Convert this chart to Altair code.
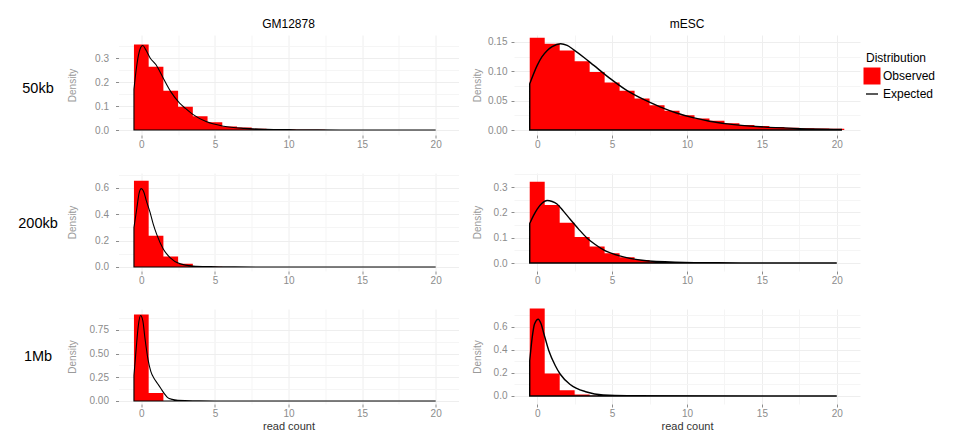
import altair as alt
import pandas as pd

FONT = "Liberation Sans"
RED = "#FF0000"
GRID_MAJOR = "#EEEEEE"
GRID_MINOR = "#F5F5F5"
AXIS_GREY = "#8C8C8C"

# read-count bins (width 1, centred on each count)
read_count = list(range(21))

# observed densities per bin
obs_gm12878_50kb = [0.356, 0.264, 0.164, 0.097, 0.057, 0.032, 0.015, 0.010, 0.005, 0.003, 0.002,
                    0.0012, 0.0008, 0.0005, 0.0003, 0.0002, 0.0001, 0.0001, 0.0, 0.0, 0.0]
obs_mesc_50kb = [0.157, 0.147, 0.1355, 0.117, 0.099, 0.081, 0.067, 0.0535, 0.042, 0.033, 0.025,
                 0.0198, 0.0157, 0.0116, 0.0087, 0.007, 0.005, 0.004, 0.003, 0.0025, 0.002]
obs_gm12878_200kb = [0.654, 0.2375, 0.079, 0.0255, 0.006, 0.002, 0.0007, 0.0002, 0.0001, 0.0, 0.0,
                     0.0, 0.0, 0.0, 0.0, 0.0, 0.0, 0.0, 0.0, 0.0, 0.0]
obs_mesc_200kb = [0.321, 0.229, 0.159, 0.103, 0.065, 0.039, 0.023, 0.012, 0.006, 0.004, 0.002,
                  0.0012, 0.0007, 0.0004, 0.0002, 0.0001, 0.0, 0.0, 0.0, 0.0, 0.0]
obs_gm12878_1mb = [0.914, 0.085, 0.001, 0.0, 0.0, 0.0, 0.0, 0.0, 0.0, 0.0, 0.0,
                   0.0, 0.0, 0.0, 0.0, 0.0, 0.0, 0.0, 0.0, 0.0, 0.0]
obs_mesc_1mb = [0.76, 0.195, 0.05, 0.012, 0.003, 0.001, 0.0, 0.0, 0.0, 0.0, 0.0,
                0.0, 0.0, 0.0, 0.0, 0.0, 0.0, 0.0, 0.0, 0.0, 0.0]

# expected density curves: read count -> density
exp_gm12878_50kb_x = [-0.5, -0.35, -0.2, 0.0, 0.1, 0.3, 0.6, 1.0, 1.5, 2.0, 2.6, 3.0, 3.5, 4.4,
                      5.6, 7.0, 8.5, 10.0, 12.0, 15.0, 20.0]
exp_gm12878_50kb_y = [0.17, 0.25, 0.31, 0.348, 0.352, 0.335, 0.300, 0.272, 0.215, 0.160, 0.112,
                      0.090, 0.065, 0.035, 0.016, 0.007, 0.003, 0.0015, 0.0006, 0.0002, 0.0]

exp_mesc_50kb_x = [-0.5, 0.0, 0.3, 0.67, 1.0, 1.56, 2.0, 2.44, 3.1, 3.78, 4.9, 6.0, 7.1, 8.2,
                   9.3, 10.4, 11.5, 12.7, 14.9, 17.1, 19.0, 20.3]
exp_mesc_50kb_y = [0.0785, 0.110, 0.124, 0.1355, 0.142, 0.147, 0.144, 0.1365, 0.124, 0.110, 0.087,
                   0.067, 0.052, 0.0395, 0.029, 0.021, 0.015, 0.0105, 0.0055, 0.0028, 0.0015, 0.001]

exp_gm12878_200kb_x = [-0.5, -0.3, -0.15, 0.0, 0.15, 0.35, 0.59, 0.8, 1.04, 1.5, 1.95, 2.6, 3.5,
                       4.7, 6.0, 8.0, 20.0]
exp_gm12878_200kb_y = [0.30, 0.45, 0.56, 0.595, 0.575, 0.50, 0.416, 0.33, 0.25, 0.135, 0.0715,
                       0.0255, 0.0077, 0.003, 0.001, 0.0003, 0.0]

exp_mesc_200kb_x = [-0.5, -0.25, 0.0, 0.3, 0.66, 1.0, 1.32, 1.75, 2.2, 2.75, 3.3, 3.85, 4.4, 5.5,
                    7.0, 9.2, 12.0, 20.0]
exp_mesc_200kb_y = [0.156, 0.187, 0.213, 0.235, 0.247, 0.243, 0.233, 0.205, 0.173, 0.135, 0.100,
                    0.074, 0.053, 0.028, 0.0107, 0.003, 0.0008, 0.0]

exp_gm12878_1mb_x = [-0.5, -0.35, -0.2, -0.05, 0.1, 0.25, 0.46, 0.65, 0.87, 1.1, 1.33, 1.55, 1.79,
                     2.1, 2.5, 3.5, 5.0, 20.0]
exp_gm12878_1mb_y = [0.27, 0.55, 0.80, 0.903, 0.85, 0.66, 0.434, 0.31, 0.238, 0.185, 0.132, 0.08,
                     0.036, 0.017, 0.008, 0.002, 0.0005, 0.0]

exp_mesc_1mb_x = [-0.5, -0.33, -0.18, 0.07, 0.25, 0.44, 0.77, 1.21, 1.54, 2.2, 3.3, 4.4, 6.0, 20.0]
exp_mesc_1mb_y = [0.307, 0.514, 0.626, 0.668, 0.63, 0.544, 0.396, 0.263, 0.189, 0.10, 0.035,
                  0.009, 0.002, 0.0]

cells = ["GM12878", "mESC"]
resolutions = ["50kb", "200kb", "1Mb"]

COLOR_SCALE = alt.Scale(domain=["Observed", "Expected"], range=[RED, "black"])

IS_EXPECTED = "datum.label === 'Expected'"
LEGEND = alt.Legend(
    title="Distribution",
    orient="none",
    legendX=853,
    legendY=18,
    titleFont=FONT, titleFontSize=12, titleFontWeight="normal", titleColor="black",
    titlePadding=5,
    labelFont=FONT, labelFontSize=12, labelColor="black", labelOffset=5,
    rowPadding=3, symbolOpacity=1,
    symbolSize={"expr": f"{IS_EXPECTED} ? 145 : 289"},
    symbolType={"expr": f"{IS_EXPECTED} ? 'stroke' : 'square'"},
    symbolStrokeWidth={"expr": f"{IS_EXPECTED} ? 1.3 : 0"},
    symbolStrokeColor={"expr": f"{IS_EXPECTED} ? '#000000' : '{RED}'"},
)


def on_step(step):
    return f"abs(datum.value / {step} - round(datum.value / {step})) < 1e-6"


def x_axis(title_on):
    test = on_step(5)
    kw = dict(
        values=[v * 2.5 for v in range(9)],
        labelExpr=f"{test} ? format(datum.value, 'd') : ''",
        labelOverlap=False,
        tickOpacity={"condition": {"test": test, "value": 1}, "value": 0},
        gridColor={"condition": {"test": test, "value": GRID_MAJOR}, "value": GRID_MINOR},
        labelPadding=1,
    )
    if title_on:
        kw.update(titleColor="#333333", titleFontSize=11, titlePadding=2)
    return alt.Axis(**kw)


def y_axis(step, fmt, top, side):
    test = on_step(step)
    n = int(top / (step / 2) + 1e-9)
    vals = [round(i * step / 2, 6) for i in range(n + 1)]
    extent = 30 if side == "left" else 26
    return alt.Axis(
        values=vals,
        labelExpr=f"{test} ? format(datum.value, '{fmt}') : ''",
        labelOverlap=False,
        tickOpacity={"condition": {"test": test, "value": 1}, "value": 0},
        gridColor={"condition": {"test": test, "value": GRID_MAJOR}, "value": GRID_MINOR},
        minExtent=extent, maxExtent=extent,
        labelPadding=7 if side == "left" else 4,
        titlePadding=11.5 if side == "left" else 5.5,
    )


def histogram_outline(obs):
    # left edge of every unit-wide bin, plus the right edge of the last one,
    # so a step-after area traces the whole histogram as one shape
    edges = [c - 0.5 for c in read_count] + [read_count[-1] + 0.5]
    heights = list(obs) + [obs[-1]]
    return pd.DataFrame({"edge": edges, "density": heights, "Distribution": "Observed"})


def panel(obs, ex_x, ex_y, y_dom, y_step, y_fmt, width, height, side,
          x_title=None, col_title=None):
    bars = histogram_outline(obs)
    curve = pd.DataFrame({"count": ex_x, "density": ex_y, "Distribution": "Expected"})
    xs = alt.Scale(domain=[-1.55, 21.55], nice=False, zero=False)
    ys = alt.Scale(domain=y_dom, nice=False, zero=False)
    xa = x_axis(x_title is not None)
    ya = y_axis(y_step, y_fmt, y_dom[1], side)
    color = alt.Color("Distribution:N", scale=COLOR_SCALE, legend=LEGEND)

    observed = alt.Chart(bars).mark_area(interpolate="step-after").encode(
        x=alt.X("edge:Q", scale=xs, axis=xa, title=x_title),
        y=alt.Y("density:Q", scale=ys, axis=ya, title="Density", stack=None),
        y2=alt.datum(0),
        color=color,
    )
    expected = alt.Chart(curve).mark_area(
        filled=False, interpolate="monotone", strokeWidth=1.1 if side == "left" else 1.4
    ).encode(
        x=alt.X("count:Q", scale=xs, axis=xa, title=x_title),
        y=alt.Y("density:Q", scale=ys, axis=ya, title="Density", stack=None),
        y2=alt.datum(0),
        color=color,
    )
    props = dict(width=width, height=height)
    if col_title is not None:
        props["title"] = alt.TitleParams(col_title, font=FONT, fontSize=12, fontWeight="normal",
                                         color="black", offset=4, anchor="middle")
    return alt.layer(observed, expected).properties(**props)


def row_label(text, height, dy):
    return alt.Chart(pd.DataFrame({"label": [text]})).mark_text(
        font=FONT, fontSize=14.5, color="black", dy=dy
    ).encode(text="label:N").properties(width=50, height=height)


W_LEFT, W_RIGHT = 340, 346
H = [100, 98, 95]

grid = [
    row_label(resolutions[0], H[0], 4),
    panel(obs_gm12878_50kb, exp_gm12878_50kb_x, exp_gm12878_50kb_y, [-0.0208, 0.396], 0.1, ".1f",
          W_LEFT, H[0], "left", col_title=cells[0]),
    panel(obs_mesc_50kb, exp_mesc_50kb_x, exp_mesc_50kb_y, [-0.0085, 0.1618], 0.05, ".2f",
          W_RIGHT, H[0], "right", col_title=cells[1]),
    row_label(resolutions[1], H[1], 2),
    panel(obs_gm12878_200kb, exp_gm12878_200kb_x, exp_gm12878_200kb_y, [-0.0304, 0.7137], 0.2, ".1f",
          W_LEFT, H[1], "left"),
    panel(obs_mesc_200kb, exp_mesc_200kb_x, exp_mesc_200kb_y, [-0.0316, 0.3557], 0.1, ".1f",
          W_RIGHT, H[1], "right"),
    row_label(resolutions[2], H[2], 0),
    panel(obs_gm12878_1mb, exp_gm12878_1mb_x, exp_gm12878_1mb_y, [-0.0317, 0.9715], 0.25, ".2f",
          W_LEFT, H[2], "left", x_title="read count"),
    panel(obs_mesc_1mb, exp_mesc_1mb_x, exp_mesc_1mb_y, [-0.0696, 0.7565], 0.2, ".1f",
          W_RIGHT, H[2], "right", x_title="read count"),
]

chart = alt.concat(
    *grid, columns=3, spacing={"row": 38, "column": 55.5}, bounds="flush"
).properties(
    padding={"left": 13, "top": 18, "right": 5, "bottom": 0},
    background="white",
).configure_view(
    stroke=None
).configure_axis(
    labelFont=FONT, labelFontSize=10, labelColor=AXIS_GREY,
    titleFont=FONT, titleFontSize=10, titleFontWeight="normal", titleColor="#9A9A9A",
    tickColor=AXIS_GREY, tickSize=3, tickWidth=1,
    domain=False, gridWidth=1,
)

chart.save("out.html", embed_options={"renderer": "svg", "actions": False})
